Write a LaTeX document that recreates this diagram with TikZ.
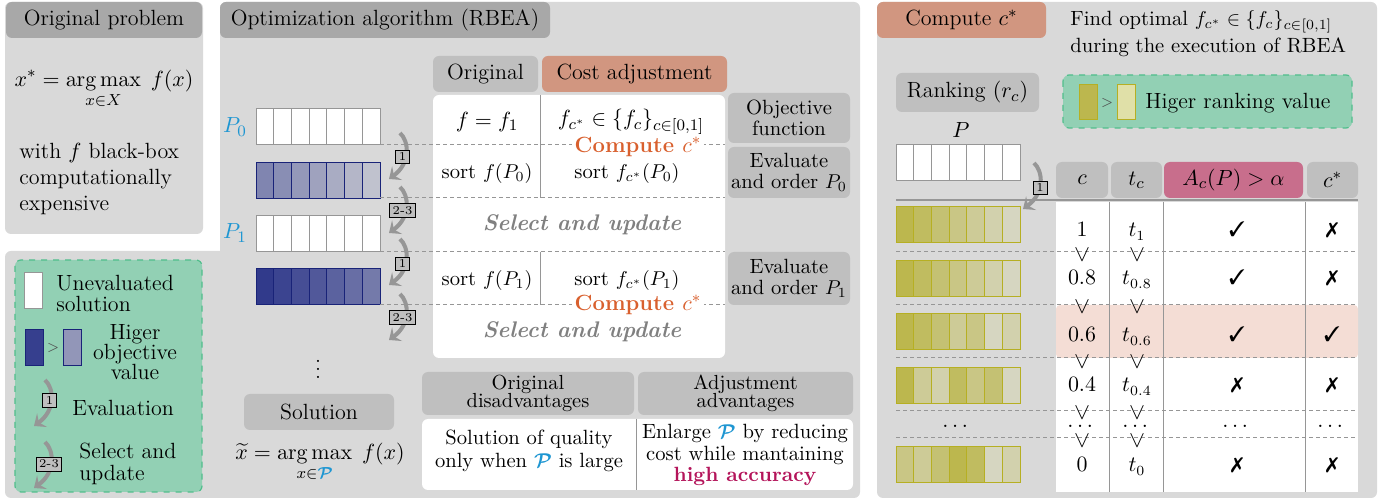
\documentclass[tikz,border=0pt]{standalone}
\usepackage{amsmath,amssymb}
\usepackage{pifont}
\usetikzlibrary{arrows.meta}
\definecolor{pgray}{RGB}{217,217,217}
\definecolor{hgray}{RGB}{168,168,168}
\definecolor{bgray}{RGB}{191,191,191}
\definecolor{salmon}{RGB}{209,150,128}
\definecolor{pinkh}{RGB}{200,110,140}
\definecolor{rowpink}{RGB}{244,221,213}
\definecolor{pcyan}{RGB}{30,150,210}
\definecolor{corange}{RGB}{217,96,46}
\definecolor{hmag}{RGB}{180,20,90}
\definecolor{lgreen}{RGB}{146,208,180}
\definecolor{dgreen}{RGB}{80,190,140}
\definecolor{navyb}{RGB}{40,50,135}
\definecolor{navyd}{RGB}{25,35,120}
\definecolor{olivec}{RGB}{188,183,78}
\definecolor{olivel}{RGB}{216,216,200}
\definecolor{oliveb}{RGB}{182,175,35}
\definecolor{olivelg}{RGB}{224,224,168}
\definecolor{stext}{RGB}{128,128,128}
\definecolor{lgline}{RGB}{150,150,150}
\definecolor{arrg}{RGB}{150,150,150}
\colorlet{ol0}{olivec!100!olivel}
\colorlet{ol1}{olivec!85!olivel}
\colorlet{ol2}{olivec!70!olivel}
\colorlet{ol3}{olivec!55!olivel}
\colorlet{ol4}{olivec!40!olivel}
\colorlet{ol5}{olivec!22!olivel}
\colorlet{ol6}{olivec!6!olivel}

\newcommand\cellrow[4]{%
  \foreach \cc [count=\ii from 0] in {#4} {
    \path[draw=#3, fill=\cc, line width=0.5pt] ({#1+\ii*17.714},#2) rectangle ++(17.714,36);
  }}
\newcommand\cycarrow[2]{%
  \begin{scope}[shift={(#1,#2)}]
    \draw[cyc] (0,0) .. controls (9,8) and (11,30) .. (-11,46);
  \end{scope}}

\begin{document}
\begin{tikzpicture}[x=0.5pt,y=-0.5pt,
  every node/.style={inner sep=0pt},
  wh/.style 2 args={minimum width=#1*0.5pt, minimum height=#2*0.5pt},
  tbig/.style={font=\fontsize{11}{13}\selectfont},
  tmid/.style={font=\fontsize{10.3}{10.5}\selectfont},
  tnum/.style={font=\fontsize{10.5}{12}\selectfont},
  hdr/.style={fill=hgray, rounded corners=3pt, tbig},
  gbox/.style={fill=bgray, rounded corners=3pt, align=center},
  dsh/.style={draw=lgline, dash pattern=on 2pt off 1.5pt, line width=0.5pt},
  vdiv/.style={draw=lgline, line width=0.5pt},
  cyc/.style={draw=arrg, line width=2pt, -{Stealth[length=5pt,width=8.5pt,inset=2pt]}},
  numlbl/.style={draw=black, fill=bgray, font=\fontsize{6}{7}\selectfont, inner sep=1.4pt, line width=0.4pt, minimum width=7pt},
  cmp/.style={fill=white, inner sep=1.2pt, text=corange, font=\fontsize{11}{13}\selectfont\bfseries},
  sel/.style={text=stext, font=\fontsize{11.3}{13}\selectfont\bfseries\itshape},
  ]
\useasboundingbox (0,0) rectangle (1391,501);

% ---------- panels ----------
\fill[pgray,rounded corners=3pt] (5,2) rectangle (203,234);
\fill[pgray,rounded corners=3pt] (220,2) rectangle (860,498);
\fill[pgray,rounded corners=3pt] (5,251) rectangle (240,498);
\fill[pgray,rounded corners=3pt] (877,2) rectangle (1377,498);

\node[hdr, wh={196}{36}] (hOP) at (104,20) {Original problem};
\node[hdr, wh={330}{36}] (hOA) at (385,20) {Optimization algorithm (RBEA)};
\node[hdr, fill=salmon, wh={169}{36}] (hCC) at (961.5,20) {Compute $c^*$};

% ---------- original problem ----------
\node[tbig] (fx) at (104,89) {$\displaystyle x^*=\operatorname*{arg\,max}_{x\in X}\; f(x)$};
\node[tbig, align=left, anchor=west] (wf) at (19,179) {with $f$ black-box\\computationally\\expensive};

% ---------- legend ----------
\fill[lgreen, rounded corners=3pt] (15,260) rectangle (202,492);
\draw[dgreen, dashed, rounded corners=3pt, line width=0.6pt] (15,260) rectangle (202,492);
\path[draw=lgline, fill=white, line width=0.5pt] (24,273) rectangle (42,309);
\node[tbig, align=left, anchor=west, font=\fontsize{11}{10.5}\selectfont] (lg1) at (56,293.5) {Unevaluated\\solution};
\path[draw=navyd, fill=navyb!92!pgray, line width=0.5pt] (25,330) rectangle (43,366);
\node[font=\fontsize{7}{8}\selectfont, text=black!70] (lggt) at (53,348) {$>$};
\path[draw=navyd, fill=navyb!40!pgray, line width=0.5pt] (63,330) rectangle (81,366);
\node[align=center, font=\fontsize{11}{10}\selectfont] (lg2) at (135,352) {Higer\\objective\\value};
\cycarrow{45}{380}
\node[numlbl] (lgn1) at (49.5,400.5) {1};
\node[tbig, anchor=west] (lg3) at (72,408) {Evaluation};
\cycarrow{45}{442}
\node[numlbl] (lgn2) at (49,464) {2-3};
\node[align=left, anchor=west, font=\fontsize{11}{11}\selectfont] (lg4) at (79,464) {Select and\\update};

% ---------- middle: populations ----------
\node[tbig, text=pcyan] (P0) at (235,127) {$P_0$};
\node[tbig, text=pcyan] (P1) at (235,233) {$P_1$};

% white table box
\fill[white, rounded corners=3pt] (433,95) rectangle (725,358);
\node[gbox, tbig, wh={105}{36}] (hOrig) at (485.5,74) {Original};
\node[gbox, tbig, fill=salmon, wh={185}{36}] (hCost) at (634.5,74) {Cost adjustment};

\cellrow{256}{109}{lgline}{white,white,white,white,white,white,white}
\cellrow{256}{163}{navyd}{navyb!50!pgray,navyb!45!pgray,navyb!39!pgray,navyb!33!pgray,navyb!27!pgray,navyb!21!pgray,navyb!14!pgray}
\cellrow{256}{216}{lgline}{white,white,white,white,white,white,white}
\cellrow{256}{269}{navyd}{navyb!95!pgray,navyb!89!pgray,navyb!83!pgray,navyb!77!pgray,navyb!71!pgray,navyb!64!pgray,navyb!57!pgray}

\draw[dsh] (380,145) -- (725,145);
\draw[dsh] (380,198) -- (725,198);
\draw[dsh] (380,252) -- (725,252);
\draw[dsh] (380,305) -- (725,305);
\draw[vdiv] (540,95) -- (540,198);
\draw[vdiv] (540,252) -- (540,305);

\node[tbig] (ff1) at (487,122) {$f=f_1$};
\node[tbig] (ffc) at (631,122) {$f_{c^*}\in\{f_c\}_{c\in[0,1]}$};
\node[cmp] (cc1) at (638,147) {Compute \textcolor{corange}{$c^*$}};
\node[tmid] (s0a) at (487,174) {sort $f(P_0)$};
\node[tmid] (s0b) at (627,174) {sort $f_{c^*}(P_0)$};
\node[sel] (su1) at (582,225) {Select and update};
\node[tmid] (s1a) at (487,281) {sort $f(P_1)$};
\node[tmid] (s1b) at (627,281) {sort $f_{c^*}(P_1)$};
\node[cmp] (cc2) at (638,305) {Compute \textcolor{corange}{$c^*$}};
\node[sel] (su2) at (582,332) {Select and update};

\node[gbox, tmid, wh={122}{50}] (gObj) at (789,118) {Objective\\function};
\node[gbox, tmid, wh={122}{51}] (gEv0) at (789,172.5) {Evaluate\\and order $P_0$};
\node[gbox, tmid, wh={122}{53}] (gEv1) at (789,278.5) {Evaluate\\and order $P_1$};

\cycarrow{400}{133}
\node[numlbl] (m1) at (402.5,157) {1};
\cycarrow{400}{187}
\node[numlbl] (m2) at (402.5,210.5) {2-3};
\cycarrow{400}{239}
\node[numlbl] (m3) at (402.5,264) {1};
\cycarrow{400}{294}
\node[numlbl] (m4) at (402.5,317.5) {2-3};

\node[tbig] (vd) at (318,363) {$\vdots$};
\node[gbox, tbig, wh={150}{36}] (sol) at (319,412) {Solution};
\node[tbig] (solf) at (320,462) {$\displaystyle \widetilde{x}=\operatorname*{arg\,max}_{x\in{\color{pcyan}\boldsymbol{\mathcal{P}}}}\; f(x)$};

% bottom tables
\node[gbox, tmid, font=\fontsize{10.2}{9.2}\selectfont, wh={212}{43}] (hDis) at (528,393.5) {Original\\disadvantages};
\node[gbox, tmid, font=\fontsize{10.2}{9.2}\selectfont, wh={215}{43}] (hAdv) at (745.5,393.5) {Adjustment\\advantages};
\fill[white, rounded corners=3pt] (422,419) rectangle (853,490);
\draw[vdiv] (636,419) -- (636,490);
\node[align=center, font=\fontsize{10.3}{11.7}\selectfont] (tDis) at (529,451) {Solution of quality\\only when ${\color{pcyan}\boldsymbol{\mathcal{P}}}$ is large};
\node[align=center, font=\fontsize{10.3}{10.8}\selectfont] (tAdv) at (745,455) {Enlarge ${\color{pcyan}\boldsymbol{\mathcal{P}}}$ by reducing\\cost while mantaining\\\textcolor{hmag}{\bfseries high accuracy}};

% ---------- right panel ----------
\node[align=left, anchor=west, font=\fontsize{10.3}{13.5}\selectfont] (find) at (1070,34) {Find optimal $f_{c^*}\in\{f_c\}_{c\in[0,1]}$\\during the execution of RBEA};
\node[gbox, tbig, wh={143}{39}] (rank) at (967.5,92.5) {Ranking $(r_c)$};
\fill[lgreen, rounded corners=3pt] (1063,75) rectangle (1352,128);
\draw[dgreen, dashed, rounded corners=3pt, line width=0.6pt] (1063,75) rectangle (1352,128);
\path[draw=oliveb, fill=ol0, line width=0.5pt] (1079,85) rectangle (1097,120);
\node[font=\fontsize{7}{8}\selectfont, text=black!70] (rgt) at (1107,103) {$>$};
\path[draw=oliveb, fill=olivelg, line width=0.5pt] (1117,85) rectangle (1135,120);
\node[tbig, anchor=west] (hrv) at (1145,103) {Higer ranking value};

\node[tbig] (Plab) at (961,130) {$P$};
\cellrow{896}{145}{lgline}{white,white,white,white,white,white,white}
\draw[lgline, line width=0.8pt] (896,200) -- (1358,200);
\cycarrow{1034}{163}
\node[numlbl] (r1) at (1040,188) {1};

% table
\node[gbox, tbig, wh={52}{36}] (hc) at (1082,180) {$c$};
\node[gbox, tbig, wh={51}{36}] (ht) at (1136.5,180) {$t_c$};
\node[gbox, tbig, fill=pinkh, wh={139}{36}] (ha) at (1233.5,180) {$A_c(P)>\alpha$};
\node[gbox, tbig, wh={51}{36}] (hs) at (1332.5,180) {$c^*$};
\fill[white] (1056,202) rectangle (1358,492);
\fill[rowpink, rounded corners=2pt] (1056,305) rectangle (1358,358);

\foreach \yy in {252,305,358,411,438} {\draw[dsh] (896,\yy) -- (1358,\yy);}
\draw[vdiv] (1109,202) -- (1109,492);
\draw[vdiv] (1163,202) -- (1163,492);
\draw[vdiv] (1305,202) -- (1305,492);

\cellrow{896}{207}{oliveb}{ol0,ol1,ol2,ol3,ol4,ol5,ol6}
\cellrow{896}{261}{oliveb}{ol0,ol1,ol2,ol3,ol4,ol5,ol6}
\cellrow{896}{314}{oliveb}{ol0,ol1,ol2,ol4,ol3,ol6,ol5}
\cellrow{896}{368}{oliveb}{ol0,ol4,ol5,ol1,ol3,ol2,ol6}
\node[tnum, anchor=base] (bdots) at (957,428) {$\dots$};
\cellrow{896}{447}{oliveb}{ol3,ol4,ol2,ol0,ol1,ol6,ol5}

% rows
\node[tnum, anchor=base] (c1) at (1082,237) {$1$};
\node[tnum, anchor=base] (t1) at (1137,237) {$t_1$};
\node[tnum, anchor=base] (a1) at (1237,237) {\ding{51}};
\node[tnum, anchor=base] (x1) at (1332,237) {\ding{55}};

\node[tnum, anchor=base] (c2) at (1082,285) {$0.8$};
\node[tnum, anchor=base] (t2) at (1137,285) {$t_{0.8}$};
\node[tnum, anchor=base] (a2) at (1237,285) {\ding{51}};
\node[tnum, anchor=base] (x2) at (1332,285) {\ding{55}};

\node[tnum, anchor=base] (c3) at (1082,342) {$0.6$};
\node[tnum, anchor=base] (t3) at (1137,342) {$t_{0.6}$};
\node[tnum, anchor=base] (a3) at (1237,342) {\ding{51}};
\node[tnum, anchor=base] (x3) at (1332,342) {\ding{51}};

\node[tnum, anchor=base] (c4) at (1082,392) {$0.4$};
\node[tnum, anchor=base] (t4) at (1137,392) {$t_{0.4}$};
\node[tnum, anchor=base] (a4) at (1237,392) {\ding{55}};
\node[tnum, anchor=base] (x4) at (1332,392) {\ding{55}};

\node[tnum, anchor=base] (c5) at (1082,428) {$\dots$};
\node[tnum, anchor=base] (t5) at (1137,428) {$\dots$};
\node[tnum, anchor=base] (a5) at (1237,428) {$\dots$};
\node[tnum, anchor=base] (x5) at (1332,428) {$\dots$};

\node[tnum, anchor=base] (c6) at (1082,472) {$0$};
\node[tnum, anchor=base] (t6) at (1137,472) {$t_0$};
\node[tnum, anchor=base] (a6) at (1237,472) {\ding{55}};
\node[tnum, anchor=base] (x6) at (1332,472) {\ding{55}};

\foreach \nm/\yy in {1/255,2/307,3/362,4/413,5/441} {
  \node[font=\fontsize{12.5}{13}\selectfont, rotate=-90] (vc\nm) at (1082,\yy) {$>$};
  \node[font=\fontsize{12.5}{13}\selectfont, rotate=-90] (vt\nm) at (1137,\yy) {$>$};
}
\end{tikzpicture}
\end{document}
